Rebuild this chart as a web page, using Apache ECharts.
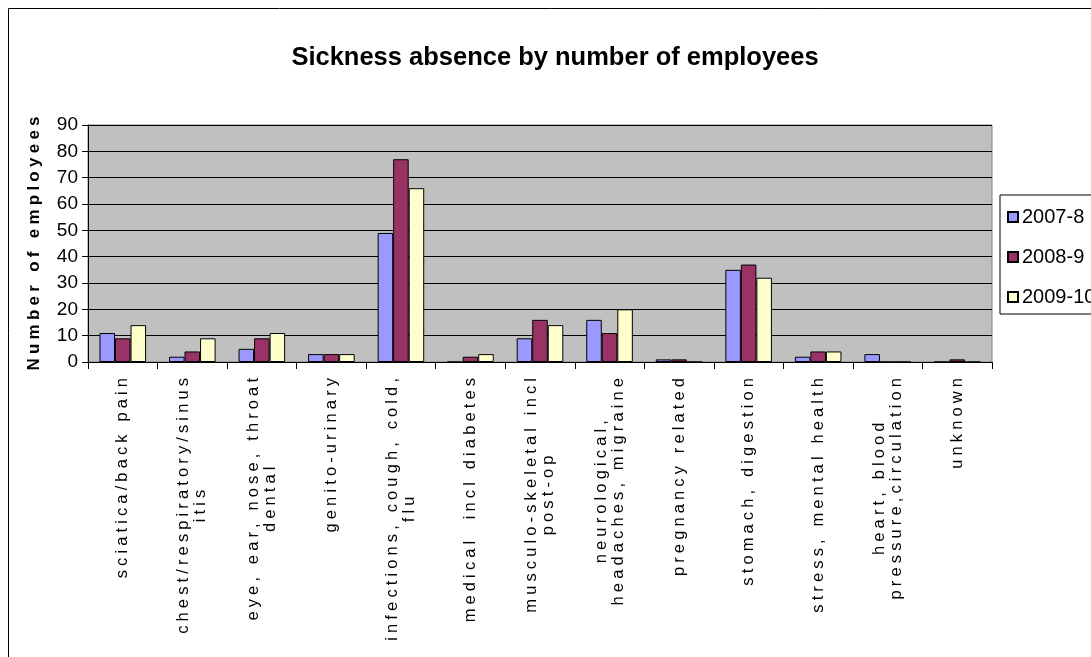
<!DOCTYPE html>
<html>
<head>
<meta charset="utf-8">
<script src="https://cdn.jsdelivr.net/npm/echarts@6/dist/echarts.min.js"></script>
<style>
  html, body { margin: 0; padding: 0; background: #fff; }
  #chart { width: 1091px; height: 657px; }
</style>
</head>
<body>
<div id="chart"></div>
<script>
// Causes of absence (line breaks where the label wraps)
const categories = [
  'sciatica/back pain',
  'chest/respiratory/sinus\nitis',
  'eye, ear, nose, throat\ndental',
  'genito-urinary',
  'infections, cough, cold,\nflu',
  'medical  incl diabetes',
  'musculo-skeletal incl\npost-op',
  'neurological,\nheadaches, migraine',
  'pregnancy related',
  'stomach, digestion',
  'stress, mental health',
  'heart, blood\npressure,circulation',
  'unknown'
];

const seriesNames = ['2007-8', '2008-9', '2009-10'];

// Number of employees per cause, by year
const values2007 = [11, 2, 5, 3, 49, 0, 9, 16, 1, 35, 2, 3, 0];
const values2008 = [9, 4, 9, 3, 77, 2, 16, 11, 1, 37, 4, 0, 1];
const values2009 = [14, 9, 11, 3, 66, 3, 14, 20, 0, 32, 4, 0, 0];

const yTicks = { min: 0, max: 90, interval: 10 };

const colors = ['#9999FF', '#993366', '#FFFFCC'];
const FONT = '"Liberation Sans", Arial, sans-serif';

// spread letters apart with a narrow space character
const spaced = (s, sp) => s.split('').join(sp);

const chart = echarts.init(document.getElementById('chart'), null, { renderer: 'canvas' });

const yearValues = [values2007, values2008, values2009];

chart.setOption({
  backgroundColor: '#ffffff',
  animation: false,
  color: colors,
  title: {
    text: 'Sickness absence by number of employees',
    left: 555,
    top: 45,
    padding: 0,
    textAlign: 'center',
    textStyle: { fontFamily: FONT, fontWeight: 'bold', fontSize: 25.5, color: '#000' }
  },
  graphic: [{
    type: 'rect',
    silent: true,
    z: -10,
    shape: { x: 8.5, y: 8.5, width: 1300, height: 900 },
    style: { fill: null, stroke: '#000', lineWidth: 1 }
  }],
  legend: {
    orient: 'vertical',
    left: 1000,
    top: 195,
    padding: [12, 40, 7, 7],
    itemGap: 20,
    itemWidth: 10,
    itemHeight: 10,
    icon: 'rect',
    borderColor: '#000',
    borderWidth: 1,
    backgroundColor: '#fff',
    textStyle: { fontFamily: FONT, fontSize: 20, color: '#000', padding: [0, 0, 0, -1] },
    data: seriesNames
  },
  grid: {
    left: 88,
    top: 125,
    width: 904,
    height: 237,
    show: true,
    backgroundColor: '#C0C0C0',
    borderColor: '#808080',
    borderWidth: 1,
    containLabel: false
  },
  xAxis: {
    type: 'category',
    data: categories,
    axisLine: { lineStyle: { color: '#000', width: 1 } },
    axisTick: { show: true, length: 7, alignWithLabel: false, lineStyle: { color: '#000' } },
    axisLabel: {
      interval: 0,
      rotate: 90,
      margin: 16,
      formatter: (v) => v.split('\n').map(l => '{c|' + spaced(l, '\u2005') + '}').join('\n'),
      rich: {
        c: { align: 'center', fontFamily: FONT, fontSize: 16.5, lineHeight: 17, color: '#000' }
      }
    },
    splitLine: { show: false }
  },
  yAxis: {
    type: 'value',
    min: yTicks.min,
    max: yTicks.max,
    interval: yTicks.interval,
    name: spaced('Number of employees', '\u2005'),
    nameLocation: 'middle',
    nameGap: 45,
    nameRotate: 90,
    nameTextStyle: { fontFamily: FONT, fontWeight: 'bold', fontSize: 17, color: '#000' },
    axisLine: { show: true, lineStyle: { color: '#000', width: 1 } },
    axisTick: { show: true, length: 6, lineStyle: { color: '#000' } },
    axisLabel: { margin: 10, fontFamily: FONT, fontSize: 19, color: '#000' },
    splitLine: { show: true, lineStyle: { color: '#000', width: 1 } }
  },
  series: seriesNames.map((name, i) => ({
    name,
    type: 'bar',
    data: yearValues[i],
    barGap: '0%',
    barCategoryGap: '33%',
    itemStyle: { color: colors[i], borderColor: '#000', borderWidth: 1 }
  }))
});
</script>
</body>
</html>
